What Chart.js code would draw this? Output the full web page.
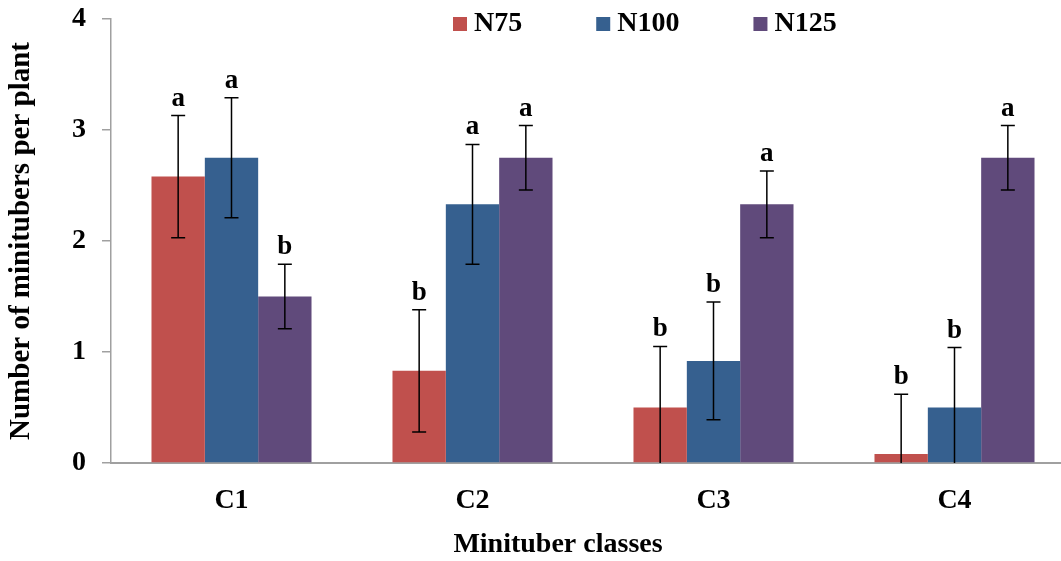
<!DOCTYPE html>
<html>
<head>
<meta charset="utf-8">
<script src="https://cdn.jsdelivr.net/npm/chart.js@4/dist/chart.umd.min.js"></script>
<style>
  html, body { margin: 0; padding: 0; overflow: hidden; background: #fff; }
  canvas { display: block; }
</style>
</head>
<body>
<canvas id="c" width="1076" height="561" style="width:1076px;height:561px"></canvas>
<script>
// Minituber classes and nitrogen treatments
const categories = ['C1', 'C2', 'C3', 'C4'];
const seriesNames = ['N75', 'N100', 'N125'];

// Mean number of minitubers per plant
const n75 = [2.58, 0.83, 0.5, 0.08];
const n100 = [2.75, 2.33, 0.92, 0.5];
const n125 = [1.5, 2.75, 2.33, 2.75];

// Error bar half-lengths
const n75Err = [0.55, 0.55, 0.55, 0.54];
const n100Err = [0.54, 0.54, 0.53, 0.54];
const n125Err = [0.29, 0.29, 0.3, 0.29];

// Significance letters above each bar
const n75Letters = ['a', 'b', 'b', 'b'];
const n100Letters = ['a', 'a', 'b', 'b'];
const n125Letters = ['b', 'a', 'a', 'a'];

const yTicks = [0, 1, 2, 3, 4];
const xTitle = 'Minituber classes';
const yTitle = 'Number of minitubers per plant';

const colors = ['#C0504D', '#36608F', '#604A7B'];
const FONT = '"Liberation Serif", "Times New Roman", serif';

const errorBars = {
  id: 'errorBars',
  afterDatasetsDraw(chart) {
    const ctx = chart.ctx;
    const y = chart.scales.y;
    chart.data.datasets.forEach((ds, i) => {
      const meta = chart.getDatasetMeta(i);
      meta.data.forEach((bar, j) => {
        const v = ds.data[j], e = ds.errors[j];
        const x = bar.x;
        const yHi = y.getPixelForValue(v + e);
        const clipped = v - e < y.min;
        const yLo = y.getPixelForValue(clipped ? y.min : v - e);
        ctx.save();
        ctx.strokeStyle = '#000';
        ctx.lineWidth = 1.5;
        ctx.beginPath();
        ctx.moveTo(x, yHi); ctx.lineTo(x, yLo);
        ctx.moveTo(x - 7, yHi); ctx.lineTo(x + 7, yHi);
        if (!clipped) { ctx.moveTo(x - 7, yLo); ctx.lineTo(x + 7, yLo); }
        ctx.stroke();
        ctx.fillStyle = '#000';
        ctx.font = 'bold 27px ' + FONT;
        ctx.textAlign = 'center';
        ctx.textBaseline = 'alphabetic';
        ctx.fillText(ds.letters[j], x, yHi - 10);
        ctx.restore();
      });
    });
  }
};

// Legend row across the top and the horizontal axis title
const decorations = {
  id: 'decorations',
  afterDraw(chart) {
    const ctx = chart.ctx;
    ctx.save();
    ctx.font = 'bold 28px ' + FONT;
    ctx.textBaseline = 'middle';
    ctx.textAlign = 'left';
    let x = 453;
    const cy = 24;
    chart.data.datasets.forEach((ds) => {
      ctx.fillStyle = ds.backgroundColor;
      ctx.fillRect(x, cy - 7, 14, 14);
      ctx.fillStyle = '#000';
      ctx.fillText(ds.label, x + 21, cy);
      x += 21 + ctx.measureText(ds.label).width + 74;
    });
    ctx.textAlign = 'center';
    ctx.fillText(xTitle, 558, 545);
    ctx.restore();
  }
};

new Chart(document.getElementById('c'), {
  type: 'bar',
  data: {
    labels: categories,
    datasets: [
      { label: seriesNames[0], data: n75, errors: n75Err, letters: n75Letters, backgroundColor: colors[0] },
      { label: seriesNames[1], data: n100, errors: n100Err, letters: n100Letters, backgroundColor: colors[1] },
      { label: seriesNames[2], data: n125, errors: n125Err, letters: n125Letters, backgroundColor: colors[2] }
    ]
  },
  options: {
    responsive: false,
    animation: false,
    layout: { padding: { top: 19, right: 1, left: 0, bottom: 0 } },
    datasets: { bar: { barPercentage: 1, categoryPercentage: 0.664 } },
    plugins: { legend: { display: false }, tooltip: { enabled: false } },
    scales: {
      x: {
        afterFit(s) { s.height = 98; s.paddingLeft = 0; s.paddingRight = 0; },
        grid: { drawOnChartArea: false, drawTicks: false },
        border: { color: '#A0A0A0', width: 2 },
        ticks: { color: '#000', padding: 21, font: { family: FONT, size: 28, weight: 'bold' } }
      },
      y: {
        min: 0, max: 4,
        afterFit(s) { s.width = 111; s.paddingTop = 0; s.paddingBottom = 0; },
        afterBuildTicks(s) { s.ticks = yTicks.map(v => ({ value: v })); },
        grid: { drawOnChartArea: false, drawTicks: true, tickLength: 9, color: '#A0A0A0', lineWidth: 1.5 },
        border: { color: '#A0A0A0', width: 1.5 },
        ticks: { color: '#000', padding: 16, font: { family: FONT, size: 28, weight: 'bold' } },
        title: { display: true, text: yTitle, color: '#000', padding: { top: 4, bottom: 0 },
                 font: { family: FONT, size: 29, weight: 'bold' } }
      }
    }
  },
  plugins: [errorBars, decorations]
});
</script>
</body>
</html>
